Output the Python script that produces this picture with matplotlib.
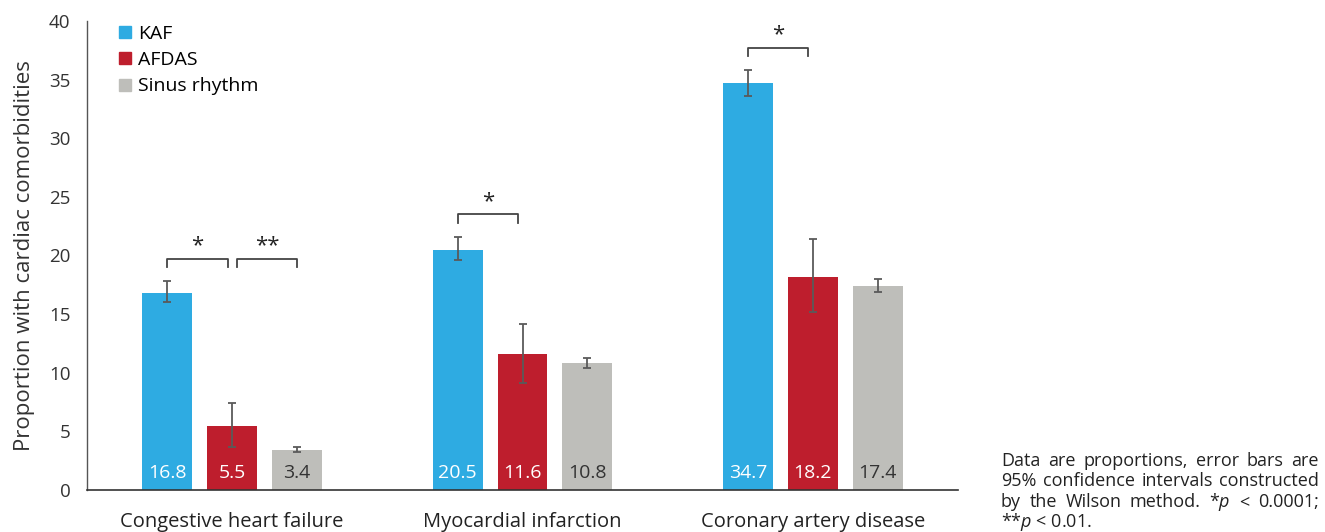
import numpy as np
import matplotlib.pyplot as plt
from matplotlib.lines import Line2D

plt.rcParams['font.family'] = ['Open Sans', 'DejaVu Sans']
plt.rcParams['mathtext.fontset'] = 'custom'
plt.rcParams['mathtext.it'] = 'Open Sans:italic'
plt.rcParams['mathtext.rm'] = 'Open Sans'

categories = ['Congestive heart failure', 'Myocardial infarction', 'Coronary artery disease']
groups = ['KAF', 'AFDAS', 'Sinus rhythm']
kaf = [16.8, 20.5, 34.7]
afdas = [5.5, 11.6, 18.2]
sinus = [3.4, 10.8, 17.4]
# 95% CI bounds (lower, upper)
kaf_ci = [(16.0, 17.8), (19.6, 21.6), (33.6, 35.8)]
afdas_ci = [(3.7, 7.4), (9.1, 14.2), (15.2, 21.4)]
sinus_ci = [(3.25, 3.7), (10.4, 11.3), (16.9, 18.0)]
# significance brackets: (category, left group, right group, label)
brackets = [(0, 0, 1, '*'), (0, 1, 2, '**'), (1, 0, 1, '*'), (2, 0, 1, '*')]

colors = ['#2EABE2', '#BE1E2D', '#BEBEBA']
label_colors = ['white', 'white', '#333333']

W, H = 1325, 532
fig = plt.figure(figsize=(W / 100, H / 100), dpi=100)
ax = fig.add_axes([87 / W, 42 / H, (958 - 87) / W, (490 - 21) / H])

x = np.arange(len(categories))
width = 0.172
step = 0.223
series = [kaf, afdas, sinus]
cis = [kaf_ci, afdas_ci, sinus_ci]

for i, (vals, ci) in enumerate(zip(series, cis)):
    pos = x + (i - 1) * step
    lo = [v - c[0] for v, c in zip(vals, ci)]
    hi = [c[1] - v for v, c in zip(vals, ci)]
    ax.bar(pos, vals, width, color=colors[i], label=groups[i], zorder=2)
    ax.errorbar(pos, vals, yerr=[lo, hi], fmt='none', ecolor='#5a5a5a',
                elinewidth=1.3, capsize=3, capthick=1.3, zorder=3)
    for p, v in zip(pos, vals):
        ax.text(p, 1.0, f'{v}', ha='center', va='baseline', fontsize=14,
                color=label_colors[i], zorder=4)

# significance brackets sit at one level per category, above the tallest CI
for cat, g1, g2, lab in brackets:
    x1 = x[cat] + (g1 - 1) * step + (0.017 if g1 > 0 else 0)
    x2 = x[cat] + (g2 - 1) * step - (0.015 if g1 == 0 else 0)
    top = max(c[cat][1] for c in cis) + 1.9
    ax.plot([x1, x1, x2, x2], [top - 0.7, top, top, top - 0.7],
            color='#444444', lw=1.3, zorder=3)
    ax.text((x1 + x2) / 2, top + 0.2, lab, ha='center', va='bottom',
            fontsize=16, color='#222222')

ax.set_xlim(-0.5, 2.5)
ax.set_ylim(0, 40)
ax.set_yticks(range(0, 41, 5))
ax.set_xticks(x)
ax.set_xticklabels(categories, fontsize=14.5, color='#222222')
ax.tick_params(axis='x', length=0, pad=16)
ax.tick_params(axis='y', length=0, labelsize=13.5, labelcolor='#333333', pad=12)
for s in ['top', 'right']:
    ax.spines[s].set_visible(False)
ax.spines['left'].set_color('#555555')
ax.spines['bottom'].set_color('#333333')
ax.spines['left'].set_linewidth(1.0)
ax.spines['bottom'].set_linewidth(1.2)
ax.set_ylabel('Proportion with cardiac comorbidities', fontsize=16,
              color='#333333', labelpad=10)

handles = [Line2D([], [], marker='s', ls='none', markersize=8, color=c) for c in colors]
fig.legend(handles, groups, loc='upper left', bbox_to_anchor=(113 / W, 1 - 25 / H),
           frameon=False, fontsize=14, handletextpad=0.1, labelspacing=0.42,
           borderaxespad=0, borderpad=0, handlelength=1.2)

# justified footnote
note_lines = [
    ['Data', 'are', 'proportions,', 'error', 'bars', 'are'],
    ['95%', 'confidence', 'intervals', 'constructed'],
    ['by', 'the', 'Wilson', 'method.', r'*$\it{p}$', '<', '0.0001;'],
    [r'**$\it{p}$ < 0.01.'],
]
left_px, right_px = 1001, 1319
base_px = [466, 486.5, 507, 527]
fig.canvas.draw()
renderer = fig.canvas.get_renderer()
for words, yb in zip(note_lines, base_px):
    ypos = 1 - yb / H
    arts = [fig.text(0, ypos, w, fontsize=13, color='#222222', va='baseline')
            for w in words]
    widths = [a.get_window_extent(renderer).width for a in arts]
    if len(arts) > 1:
        gap = (right_px - left_px - sum(widths)) / (len(arts) - 1)
    else:
        gap = 0
    cur = left_px
    for a, w in zip(arts, widths):
        a.set_x(cur / W)
        cur += w + gap

fig.savefig('out.png', dpi=100)
